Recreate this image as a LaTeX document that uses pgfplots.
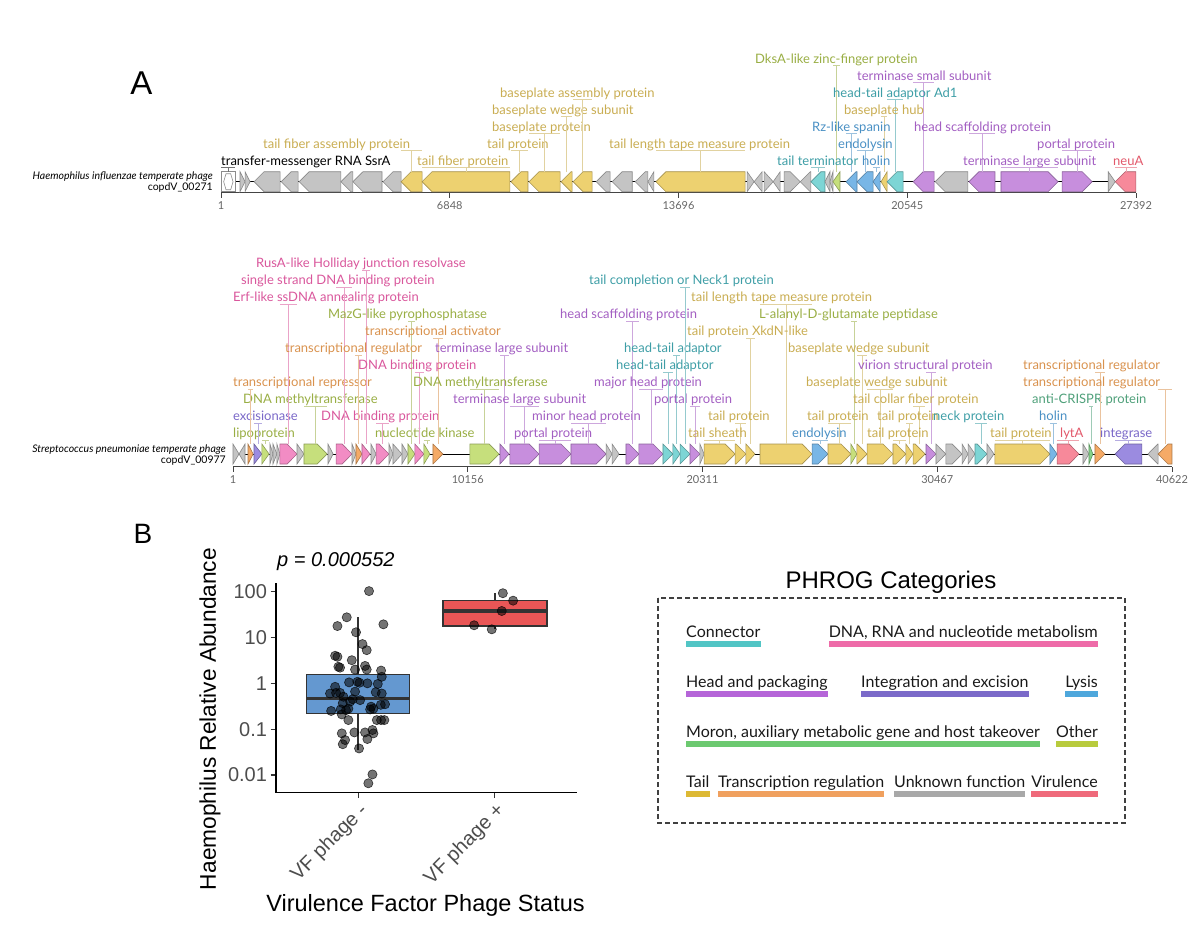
\documentclass[border=0pt]{standalone}
\usepackage{fontspec}
\setmainfont{Lato}
\newfontfamily\arial{Liberation Sans}
\usepackage{pgfplots}
\pgfplotsset{compat=1.18}

% gene fills
\definecolor{cgray}{HTML}{C4C4C4}
\definecolor{ctail}{HTML}{EDD170}
\definecolor{cconn}{HTML}{7DD5D5}
\definecolor{chead}{HTML}{C78EDD}
\definecolor{cdna}{HTML}{F28CC4}
\definecolor{clys}{HTML}{78B6E6}
\definecolor{cint}{HTML}{9B8BE0}
\definecolor{coth}{HTML}{C6DF7C}
\definecolor{cmor}{HTML}{86D38A}
\definecolor{cora}{HTML}{F5AA66}
\definecolor{cvir}{HTML}{F7899A}
% label text
\definecolor{ttail}{HTML}{C9AD52}
\definecolor{tconn}{HTML}{3E9EA6}
\definecolor{thead}{HTML}{A35FC2}
\definecolor{tdna}{HTML}{D9579C}
\definecolor{tlys}{HTML}{4A90C4}
\definecolor{tint}{HTML}{7A68C8}
\definecolor{toth}{HTML}{99AE44}
\definecolor{tmor}{HTML}{4FA07A}
\definecolor{tora}{HTML}{D9924E}
\definecolor{tvir}{HTML}{E2596B}
% legend bars
\definecolor{lconn}{HTML}{52C5C5}
\definecolor{ldna}{HTML}{EE6BA8}
\definecolor{lhead}{HTML}{B565D8}
\definecolor{lint}{HTML}{7B6AC9}
\definecolor{llys}{HTML}{4EA7DC}
\definecolor{lmor}{HTML}{6CC970}
\definecolor{loth}{HTML}{B8CB3D}
\definecolor{ltail}{HTML}{DDB934}
\definecolor{lora}{HTML}{F0A05E}
\definecolor{lgray}{HTML}{A8A8A8}
\definecolor{lvir}{HTML}{EF6A7B}
% misc
\definecolor{tickg}{HTML}{666666}
\definecolor{axg}{HTML}{444444}
\definecolor{boxblue}{HTML}{6498D0}
\definecolor{boxred}{HTML}{E95656}
\definecolor{boxline}{HTML}{333333}
\definecolor{tick30}{HTML}{4D4D4D}

\newcommand\glf{\fontsize{13}{13}\selectfont}
\newcommand\namef{\fontsize{10.5}{10.5}\selectfont}
\newcommand\legf{\fontsize{16}{16}\selectfont}

% gene arrow: start, end (kb), strand, colour
\newcommand\gene[4]{%
  \pgfmathsetmacro\gh{min(#2-#1,\hl)}%
  \ifnum#3>0
    \pgfmathsetmacro\gb{#2-\gh}%
    \edef\tmp{\noexpand\addplot[fill=#4, draw=#4!70!black, line width=0.6pt]
      coordinates {(#1,-1) (\gb,-1) (#2,0) (\gb,1) (#1,1)} --cycle;}%
  \else
    \pgfmathsetmacro\gb{#1+\gh}%
    \edef\tmp{\noexpand\addplot[fill=#4, draw=#4!70!black, line width=0.6pt]
      coordinates {(#2,-1) (\gb,-1) (#1,0) (\gb,1) (#2,1)} --cycle;}%
  \fi
  \tmp}

% gene label: colour, row, text x, span x1, span x2, text
\newcommand\lab[6]{%
  \pgfmathsetmacro\by{\gbase-17*(#2-1)}%
  \draw[#1!55, line width=0.8pt] (#4,\by+2.8) -- (#5,\by+2.8)
    ({0.5*(#4+#5)},\by+2.8) -- ({0.5*(#4+#5)},\gtop);
  \node[anchor=base west, inner sep=0pt, text=#1, font=\glf] at (#3,\by) {#6};}

% legend entry: anchor, x, baseline, colour, text
\newcommand\leg[5]{%
  \node[anchor=base #1, inner sep=0pt, font=\legf, text=black!90] (L) at (#2,#3) {#5};
  \fill[#4] ([yshift=-3.7pt]L.base west) rectangle ([yshift=-9.4pt]L.base east);}

\pgfplotsset{genome/.style={
  anchor=south west, scale only axis, clip=false,
  axis x line*=bottom, axis y line=none, ytick=\empty,
  x axis line style={-, line width=1.3pt, axg},
  tick align=outside, major tick length=5pt,
  xtick style={line width=1pt, axg},
  ticklabel style={font=\fontsize{11}{11}\selectfont, text=tickg}}}

\begin{document}
\begin{tikzpicture}
\path[use as bounding box] (0,0) rectangle (1200pt,-938pt);

% ---------------- genome 1 ----------------
\def\hl{0.30}
\begin{axis}[genome, at={(221pt,-192.7pt)}, width=915pt, height=21pt,
  xmin=0, xmax=27.392, ymin=-1.1, ymax=1,
  xtick={0.001,6.848,13.696,20.545,27.392},
  xticklabels={1,6848,13696,20545,27392}]
\addplot[black, line width=0.9pt] coordinates {(0.4,0) (27.392,0)};
\addplot[fill=white, draw=black!45, line width=0.8pt] coordinates {(0.02,-1) (0.42,-1) (0.42,1) (0.02,1)} --cycle;
\addplot[draw=black!45, line width=0.6pt] coordinates {(0.08,0) (0.15,-0.8) (0.29,-0.8) (0.36,0) (0.29,0.8) (0.15,0.8)} --cycle;
\gene{0.57}{0.72}{1}{cgray}
\gene{0.72}{0.87}{1}{cgray}
\gene{0.99}{1.77}{-1}{cgray}
\gene{1.80}{2.31}{-1}{cgray}
\gene{2.34}{3.59}{-1}{cgray}
\gene{3.59}{3.95}{-1}{cgray}
\gene{3.95}{4.82}{-1}{cgray}
\gene{4.85}{5.39}{-1}{cgray}
\gene{5.39}{6.02}{-1}{ctail}
\gene{6.02}{8.65}{-1}{ctail}
\gene{8.68}{9.19}{-1}{ctail}
\gene{9.22}{10.15}{-1}{ctail}
\gene{10.18}{10.51}{-1}{ctail}
\gene{10.54}{11.11}{-1}{ctail}
\gene{11.23}{11.65}{-1}{cgray}
\gene{11.71}{12.31}{-1}{cgray}
\gene{12.40}{12.78}{-1}{cgray}
\gene{12.78}{12.96}{-1}{cgray}
\gene{13.02}{15.69}{-1}{ctail}
\gene{15.75}{15.96}{1}{cgray}
\gene{15.96}{16.20}{-1}{cgray}
\gene{16.26}{16.53}{1}{cgray}
\gene{16.53}{16.74}{-1}{cgray}
\gene{16.86}{17.34}{1}{cgray}
\gene{17.34}{17.66}{-1}{cgray}
\gene{17.66}{18.08}{-1}{cconn}
\gene{18.08}{18.23}{-1}{cgray}
\gene{18.23}{18.32}{-1}{cgray}
\gene{18.32}{18.53}{-1}{coth}
\gene{18.71}{19.04}{-1}{clys}
\gene{19.04}{19.52}{-1}{clys}
\gene{19.52}{19.73}{-1}{clys}
\gene{19.76}{19.94}{-1}{ctail}
\gene{19.94}{20.42}{-1}{cconn}
\gene{20.72}{21.35}{-1}{chead}
\gene{21.38}{22.36}{-1}{cgray}
\gene{22.39}{23.17}{-1}{chead}
\gene{23.35}{25.06}{1}{chead}
\gene{25.18}{26.08}{1}{chead}
\gene{26.56}{26.77}{1}{cgray}
\gene{26.77}{27.39}{-1}{cvir}
\end{axis}

% ---------------- genome 2 ----------------
\def\hl{0.43}
\begin{axis}[genome, at={(233pt,-466.7pt)}, width=939pt, height=22.7pt,
  xmin=0, xmax=40.622, ymin=-1.27, ymax=1,
  xtick={0.001,10.156,20.311,30.467,40.622},
  xticklabels={1,10156,20311,30467,40622}]
\addplot[black, line width=0.9pt] coordinates {(0,0) (40.622,0)};
\gene{0.00}{0.26}{1}{cgray}
\gene{0.26}{0.52}{-1}{cgray}
\gene{0.65}{0.87}{1}{cora}
\gene{0.91}{1.25}{1}{cint}
\gene{1.25}{1.56}{1}{coth}
\gene{1.60}{1.73}{1}{cgray}
\gene{1.73}{1.90}{1}{cgray}
\gene{1.90}{2.03}{1}{cgray}
\gene{2.03}{2.77}{1}{cdna}
\gene{2.77}{3.07}{1}{cgray}
\gene{3.07}{4.07}{1}{coth}
\gene{4.11}{4.33}{1}{cgray}
\gene{4.46}{5.15}{1}{cdna}
\gene{5.15}{5.32}{1}{cgray}
\gene{5.32}{5.58}{1}{cora}
\gene{5.58}{5.93}{1}{cdna}
\gene{5.97}{6.19}{1}{cgray}
\gene{6.19}{6.75}{1}{cdna}
\gene{6.75}{6.92}{1}{cgray}
\gene{6.92}{7.31}{1}{cgray}
\gene{7.31}{7.57}{1}{cgray}
\gene{7.57}{7.87}{1}{coth}
\gene{7.87}{8.26}{1}{cdna}
\gene{8.26}{8.52}{1}{coth}
\gene{8.65}{9.08}{1}{cora}
\gene{10.25}{11.51}{1}{coth}
\gene{11.55}{11.94}{1}{chead}
\gene{11.98}{13.24}{1}{chead}
\gene{13.24}{14.62}{1}{chead}
\gene{14.62}{16.14}{1}{chead}
\gene{16.14}{16.40}{1}{cgray}
\gene{16.40}{16.70}{1}{cgray}
\gene{17.00}{17.56}{1}{chead}
\gene{17.56}{18.60}{1}{chead}
\gene{18.60}{19.03}{1}{cconn}
\gene{19.03}{19.34}{1}{cconn}
\gene{19.34}{19.77}{1}{cconn}
\gene{19.77}{20.20}{1}{chead}
\gene{20.20}{20.38}{1}{cgray}
\gene{20.38}{21.72}{1}{ctail}
\gene{21.72}{22.19}{1}{ctail}
\gene{22.19}{22.58}{1}{ctail}
\gene{22.80}{25.05}{1}{ctail}
\gene{25.05}{25.74}{1}{clys}
\gene{25.74}{26.73}{1}{ctail}
\gene{26.73}{26.99}{1}{coth}
\gene{26.99}{27.43}{1}{ctail}
\gene{27.43}{28.55}{1}{ctail}
\gene{28.55}{29.11}{1}{ctail}
\gene{29.11}{29.42}{1}{ctail}
\gene{29.42}{29.94}{1}{ctail}
\gene{29.98}{30.41}{1}{chead}
\gene{30.41}{30.84}{1}{cgray}
\gene{30.84}{31.54}{1}{cgray}
\gene{31.54}{31.80}{1}{cgray}
\gene{31.80}{32.10}{1}{cgray}
\gene{32.10}{32.62}{1}{cconn}
\gene{32.62}{32.92}{1}{cgray}
\gene{32.96}{35.34}{1}{ctail}
\gene{35.34}{35.65}{1}{clys}
\gene{35.65}{36.60}{1}{cvir}
\gene{36.77}{37.03}{1}{cgray}
\gene{37.03}{37.20}{1}{cmor}
\gene{37.29}{37.72}{1}{cora}
\gene{38.16}{39.32}{-1}{cint}
\gene{39.58}{40.02}{-1}{cgray}
\gene{40.02}{40.62}{-1}{cora}
\end{axis}

% ---------------- panel B boxplot ----------------
\begin{axis}[at={(276pt,-792.7pt)}, anchor=south west, scale only axis, clip=false,
  width=301pt, height=210pt, xmin=0.4, xmax=2.6,
  ymode=log, ymin=0.00411, ymax=157, yminorticks=false,
  axis x line*=bottom, axis y line*=left,
  axis line style={-, line width=1.4pt, black},
  xtick={1,2}, xticklabels={VF phage -, VF phage +},
  ytick={0.01,0.1,1,10,100}, yticklabels={0.01,0.1,1,10,100},
  tick align=outside, major tick length=5.5pt,
  tick style={line width=1.1pt, boxline},
  ticklabel style={font=\arial\fontsize{20}{20}\selectfont, text=tick30},
  xticklabel style={rotate=45, anchor=north east, inner sep=2pt}]
\addplot[boxline, line width=1.4pt] coordinates {(1,1.57) (1,27.6)};
\addplot[boxline, line width=1.4pt] coordinates {(1,0.221) (1,0.035)};
\addplot[fill=boxblue, draw=boxline, line width=1.4pt] coordinates {(0.625,0.221) (1.375,0.221) (1.375,1.57) (0.625,1.57)} --cycle;
\addplot[boxline, line width=3.6pt] coordinates {(0.625,0.47) (1.375,0.47)};
\addplot[boxline, line width=1.4pt] coordinates {(2,63.6) (2,92)};
\addplot[boxline, line width=1.4pt] coordinates {(2,17.8) (2,15.1)};
\addplot[fill=boxred, draw=boxline, line width=1.4pt] coordinates {(1.62,17.8) (2.38,17.8) (2.38,63.6) (1.62,63.6)} --cycle;
\addplot[boxline, line width=3.6pt] coordinates {(1.62,37.9) (2.38,37.9)};
\addplot[only marks, mark=*, mark size=4.6pt,
  mark options={fill=black, draw=black, fill opacity=0.55, draw opacity=0.7, line width=0.6pt}]
  coordinates {
  (1.080,103) (0.917,27.6) (0.849,17.8) (1.185,19.4) (0.985,13.0) (1.032,7.2)
  (1.063,5.3) (0.832,4.0) (0.849,3.8) (0.954,3.2) (1.051,2.4) (0.856,2.3)
  (0.868,2.2) (0.978,2.0) (1.063,2.0) (1.168,1.9) (1.173,1.39) (0.934,1.05)
  (0.995,1.08) (1.010,1.03) (1.068,1.0) (1.144,0.97) (0.832,0.84) (0.795,0.60)
  (0.839,0.62) (0.868,0.62) (0.978,0.66) (1.129,0.64) (1.173,0.60) (0.893,0.51)
  (0.961,0.45) (0.942,0.40) (1.015,0.43) (0.888,0.37) (1.095,0.31) (1.112,0.28)
  (1.166,0.34) (1.197,0.35) (0.803,0.25) (0.873,0.27) (0.912,0.26) (0.929,0.28)
  (0.881,0.21) (1.088,0.27) (0.929,0.158) (1.137,0.158) (1.168,0.158) (1.192,0.158)
  (0.881,0.081) (0.973,0.085) (1.051,0.085) (1.105,0.096) (1.112,0.081) (0.905,0.058)
  (0.888,0.047) (1.068,0.061) (1.007,0.038) (1.105,0.0103) (1.075,0.0066)
  (2.058,92.6) (2.133,63.7) (2.050,37.9) (1.848,18.5) (1.977,15.1)};
\end{axis}

\begin{scope}[x=1pt, y=-1pt]
% panel letters
\node[font=\arial\fontsize{33}{33}\selectfont, anchor=base] at (141.5,94) {A};
\node[font=\arial\fontsize{28}{28}\selectfont, anchor=base] at (143,543) {B};

% genome names
\node[anchor=base east, inner sep=0pt, font=\namef\itshape] at (213,179.3) {Haemophilus influenzae temperate phage};
\node[anchor=base east, inner sep=0pt, font=\namef] at (213,190) {copdV\_00271};
\node[anchor=base east, inner sep=0pt, font=\namef\itshape] at (226,452.3) {Streptococcus pneumoniae temperate phage};
\node[anchor=base east, inner sep=0pt, font=\namef] at (226,463.3) {copdV\_00977};

% genome 1 labels
\def\gbase{165}\def\gtop{171.7}
\lab{black}{1}{221}{221}{235}{transfer-messenger RNA SsrA}
\lab{ttail}{2}{263}{401}{422}{tail fiber assembly protein}
\lab{ttail}{1}{417}{422}{510}{tail fiber protein}
\lab{ttail}{2}{487}{511}{528}{tail protein}
\lab{ttail}{3}{492}{529}{560}{baseplate protein}
\lab{ttail}{4}{492}{561}{572}{baseplate wedge subunit}
\lab{ttail}{5}{500}{573}{592}{baseplate assembly protein}
\lab{ttail}{2}{609}{656}{745}{tail length tape measure protein}
\lab{toth}{7}{755}{833}{840}{DksA-like zinc-finger protein}
\lab{thead}{6}{857}{913}{934}{terminase small subunit}
\lab{tconn}{5}{833}{887}{903}{head-tail adaptor Ad1}
\lab{ttail}{4}{844}{881}{887}{baseplate hub}
\lab{tlys}{3}{812}{846}{857}{Rz-like spanin}
\lab{tlys}{2}{838}{857}{873}{endolysin}
\lab{tconn}{1}{777}{811}{825}{tail terminator}
\lab{tlys}{1}{862}{873}{880}{holin}
\lab{thead}{3}{914}{969}{995}{head scaffolding protein}
\lab{thead}{2}{1037}{1062}{1092}{portal protein}
\lab{thead}{1}{963}{1001}{1058}{terminase large subunit}
\lab{tvir}{1}{1113}{1115}{1137}{neuA}

% genome 2 labels
\def\gbase{437.5}\def\gtop{444}
\lab{toth}{1}{233}{262}{269}{lipoprotein}
\lab{tint}{2}{233}{254}{262}{excisionase}
\lab{toth}{3}{243}{304}{327}{DNA methyltransferase}
\lab{tora}{4}{233}{248}{253}{transcriptional repressor}
\lab{tdna}{2}{321}{376}{389}{DNA binding protein}
\lab{toth}{1}{375}{424}{430}{nucleotide kinase}
\lab{tdna}{9}{233}{280}{297}{Erf-like ssDNA annealing protein}
\lab{tdna}{10}{241}{336}{352}{single strand DNA binding protein}
\lab{tdna}{11}{256}{362}{370}{RusA-like Holliday junction resolvase}
\lab{toth}{8}{328}{408}{415}{MazG-like pyrophosphatase}
\lab{tora}{7}{365}{433}{443}{transcriptional activator}
\lab{tora}{6}{285}{355}{362}{transcriptional regulator}
\lab{thead}{6}{435}{500}{509}{terminase large subunit}
\lab{tdna}{5}{358}{415}{424}{DNA binding protein}
\lab{toth}{4}{413}{470}{499}{DNA methyltransferase}
\lab{thead}{3}{453}{510}{539}{terminase large subunit}
\lab{thead}{1}{514}{539}{571}{portal protein}
\lab{thead}{2}{532}{571}{606}{minor head protein}
\lab{thead}{8}{560}{626}{639}{head scaffolding protein}
\lab{thead}{4}{594}{639}{663}{major head protein}
\lab{tconn}{6}{624}{673}{680}{head-tail adaptor}
\lab{tconn}{5}{616}{663}{673}{head-tail adaptor}
\lab{thead}{3}{654}{690}{700}{portal protein}
\lab{tconn}{10}{589}{680}{690}{tail completion or Neck1 protein}
\lab{ttail}{9}{691}{760}{812}{tail length tape measure protein}
\lab{ttail}{7}{687}{746}{755}{tail protein XkdN-like}
\lab{ttail}{2}{708}{735}{746}{tail protein}
\lab{ttail}{1}{688}{704}{735}{tail sheath}
\lab{toth}{8}{759}{851}{857}{L-alanyl-D-glutamate peptidase}
\lab{ttail}{6}{788}{857}{867}{baseplate wedge subunit}
\lab{thead}{5}{858}{926}{936}{virion structural protein}
\lab{ttail}{4}{806}{867}{893}{baseplate wedge subunit}
\lab{ttail}{3}{853}{913}{925}{tail collar fiber protein}
\lab{ttail}{2}{807}{828}{851}{tail protein}
\lab{ttail}{2}{877}{906}{913}{tail protein}
\lab{tconn}{2}{933}{975}{987}{neck protein}
\lab{tlys}{1}{792}{812}{828}{endolysin}
\lab{ttail}{1}{867}{893}{906}{tail protein}
\lab{ttail}{1}{990}{995}{1050}{tail protein}
\lab{tvir}{1}{1060}{1057}{1079}{lytA}
\lab{tlys}{2}{1039}{1050}{1057}{holin}
\lab{tmor}{3}{1032}{1089}{1093}{anti-CRISPR protein}
\lab{tora}{5}{1023}{1095}{1105}{transcriptional regulator}
\lab{tora}{4}{1023}{1158}{1172}{transcriptional regulator}
\lab{tint}{1}{1100}{1115}{1142}{integrase}

% panel B texts
\node[anchor=base west, inner sep=0pt, font=\arial\itshape\fontsize{20}{20}\selectfont] at (277,566) {p = 0.000552};
\node[rotate=90, inner sep=0pt, font=\arial\fontsize{22.7}{22.7}\selectfont] at (210,719) {Haemophilus Relative Abundance};
\node[inner sep=0pt, font=\arial\fontsize{23.5}{23.5}\selectfont] at (425.5,905.5) {Virulence Factor Phage Status};

% legend
\node[anchor=base, inner sep=0pt, font=\arial\fontsize{24}{24}\selectfont] at (891,588) {PHROG Categories};
\draw[dash pattern=on 5pt off 3pt, line width=1.1pt, black!75] (658,598) rectangle (1125,823);
\leg{west}{686}{637.3}{lconn}{Connector}
\leg{east}{1098}{637.3}{ldna}{DNA, RNA and nucleotide metabolism}
\leg{west}{686}{687.3}{lhead}{Head and packaging}
\leg{west}{861}{687.3}{lint}{Integration and excision}
\leg{east}{1098}{687.3}{llys}{Lysis}
\leg{west}{686}{737.3}{lmor}{Moron, auxiliary metabolic gene and host takeover}
\leg{east}{1098}{737.3}{loth}{Other}
\leg{west}{686}{787.3}{ltail}{Tail}
\leg{west}{718}{787.3}{lora}{Transcription regulation}
\leg{west}{894}{787.3}{lgray}{Unknown function}
\leg{east}{1098}{787.3}{lvir}{Virulence}
\end{scope}
\end{tikzpicture}
\end{document}
